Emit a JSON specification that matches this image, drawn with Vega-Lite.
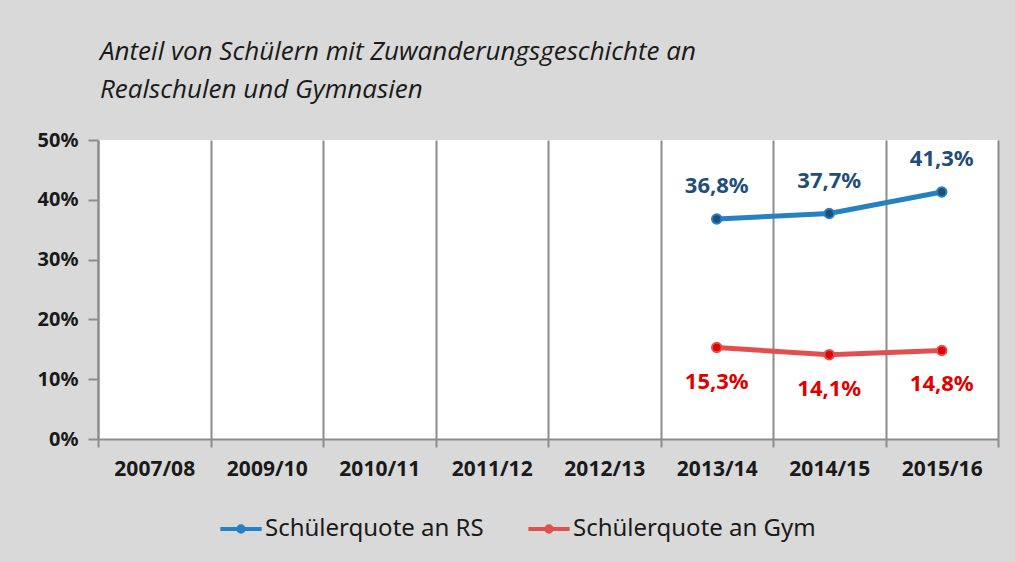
{
  "$schema": "https://vega.github.io/schema/vega-lite/v6.json",
  "width": 900,
  "height": 299,
  "autosize": {"type": "none"},
  "padding": {"left": 98, "top": 140, "right": 17, "bottom": 123},
  "background": "#d9d9d9",
  "title": {
    "text": ["Anteil von Schülern mit Zuwanderungsgeschichte an", "Realschulen und  Gymnasien"],
    "anchor": "start",
    "frame": "group",
    "font": "Open Sans",
    "fontStyle": "italic",
    "fontWeight": "normal",
    "fontSize": 26,
    "lineHeight": 38,
    "color": "#1a1a1a",
    "offset": 27,
    "dx": 2
  },
  "data": {
    "values": [
      {"year": "2013/14", "series": "Schülerquote an RS", "value": 0.368},
      {"year": "2014/15", "series": "Schülerquote an RS", "value": 0.377},
      {"year": "2015/16", "series": "Schülerquote an RS", "value": 0.413},
      {"year": "2013/14", "series": "Schülerquote an Gym", "value": 0.153},
      {"year": "2014/15", "series": "Schülerquote an Gym", "value": 0.141},
      {"year": "2015/16", "series": "Schülerquote an Gym", "value": 0.148}
    ]
  },
  "encoding": {
    "x": {
      "field": "year",
      "type": "ordinal",
      "scale": {"domain": ["2007/08", "2009/10", "2010/11", "2011/12", "2012/13", "2013/14", "2014/15", "2015/16"], "paddingInner": 0, "paddingOuter": 0},
      "axis": {
        "title": null,
        "labelAngle": 0,
        "tickBand": "extent",
        "grid": true,
        "gridColor": "#8c8c8c",
        "gridWidth": 2,
        "domainColor": "#8c8c8c",
        "domainWidth": 2,
        "tickColor": "#8c8c8c",
        "tickWidth": 2,
        "tickSize": 8,
        "labelPadding": 11,
        "labelFont": "Noto Sans",
        "labelFontWeight": "bold",
        "labelFontSize": 21,
        "labelColor": "#1a1a1a"
      }
    },
    "y": {
      "field": "value",
      "type": "quantitative",
      "scale": {"domain": [0, 0.5], "nice": false},
      "axis": {
        "title": null,
        "values": [0, 0.1, 0.2, 0.3, 0.4, 0.5],
        "format": ".0%",
        "grid": false,
        "domainColor": "#8c8c8c",
        "domainWidth": 2,
        "tickColor": "#8c8c8c",
        "tickWidth": 2,
        "tickSize": 10,
        "labelPadding": 10,
        "labelFont": "Noto Sans",
        "labelFontWeight": "bold",
        "labelFontSize": 20,
        "labelColor": "#1a1a1a"
      }
    }
  },
  "layer": [
    {
      "mark": {"type": "line", "strokeWidth": 5},
      "encoding": {
        "color": {
          "field": "series",
          "type": "nominal",
          "scale": {"domain": ["Schülerquote an RS", "Schülerquote an Gym"], "range": ["#2581c4", "#e05050"]},
          "legend": {
            "title": null,
            "orient": "none",
            "legendX": 120,
            "legendY": 366,
            "direction": "horizontal",
            "columns": 2,
            "columnPadding": 36,
            "symbolType": "M -1 0 L 1 0 M -0.13 0 A 0.13 0.13 0 1 1 0.13 0 A 0.13 0.13 0 1 1 -0.13 0 Z",
            "symbolSize": 1700,
            "symbolStrokeWidth": 4,
            "labelFont": "Noto Sans",
            "labelFontSize": 24,
            "labelLimit": 400,
            "labelColor": "#1a1a1a",
            "labelOffset": 1,
            "encode": {"symbols": {"update": {"fill": {"scale": "color", "field": "value"}}}}
          }
        }
      }
    },
    {
      "mark": {"type": "point", "filled": true, "size": 90, "strokeWidth": 2, "opacity": 1},
      "encoding": {
        "fill": {
          "field": "series",
          "type": "nominal",
          "scale": {"domain": ["Schülerquote an RS", "Schülerquote an Gym"], "range": ["#1f4e79", "#e00000"]},
          "legend": null
        },
        "stroke": {
          "field": "series",
          "type": "nominal",
          "scale": {"domain": ["Schülerquote an RS", "Schülerquote an Gym"], "range": ["#2581c4", "#e05050"]},
          "legend": null
        }
      }
    },
    {
      "transform": [{"filter": "datum.series == 'Schülerquote an RS'"}],
      "mark": {"type": "text", "dy": -33, "font": "Noto Sans", "fontWeight": "bold", "fontSize": 22, "color": "#1f4e79"},
      "encoding": {"text": {"field": "value", "type": "quantitative", "format": ".1%"}}
    },
    {
      "transform": [{"filter": "datum.series == 'Schülerquote an Gym'"}],
      "mark": {"type": "text", "dy": 34, "font": "Noto Sans", "fontWeight": "bold", "fontSize": 22, "color": "#e00000"},
      "encoding": {"text": {"field": "value", "type": "quantitative", "format": ".1%"}}
    }
  ],
  "config": {
    "view": {"fill": "white", "stroke": null},
    "locale": {"number": {"decimal": ",", "thousands": ".", "grouping": [3], "currency": ["", " €"]}}
  }
}
